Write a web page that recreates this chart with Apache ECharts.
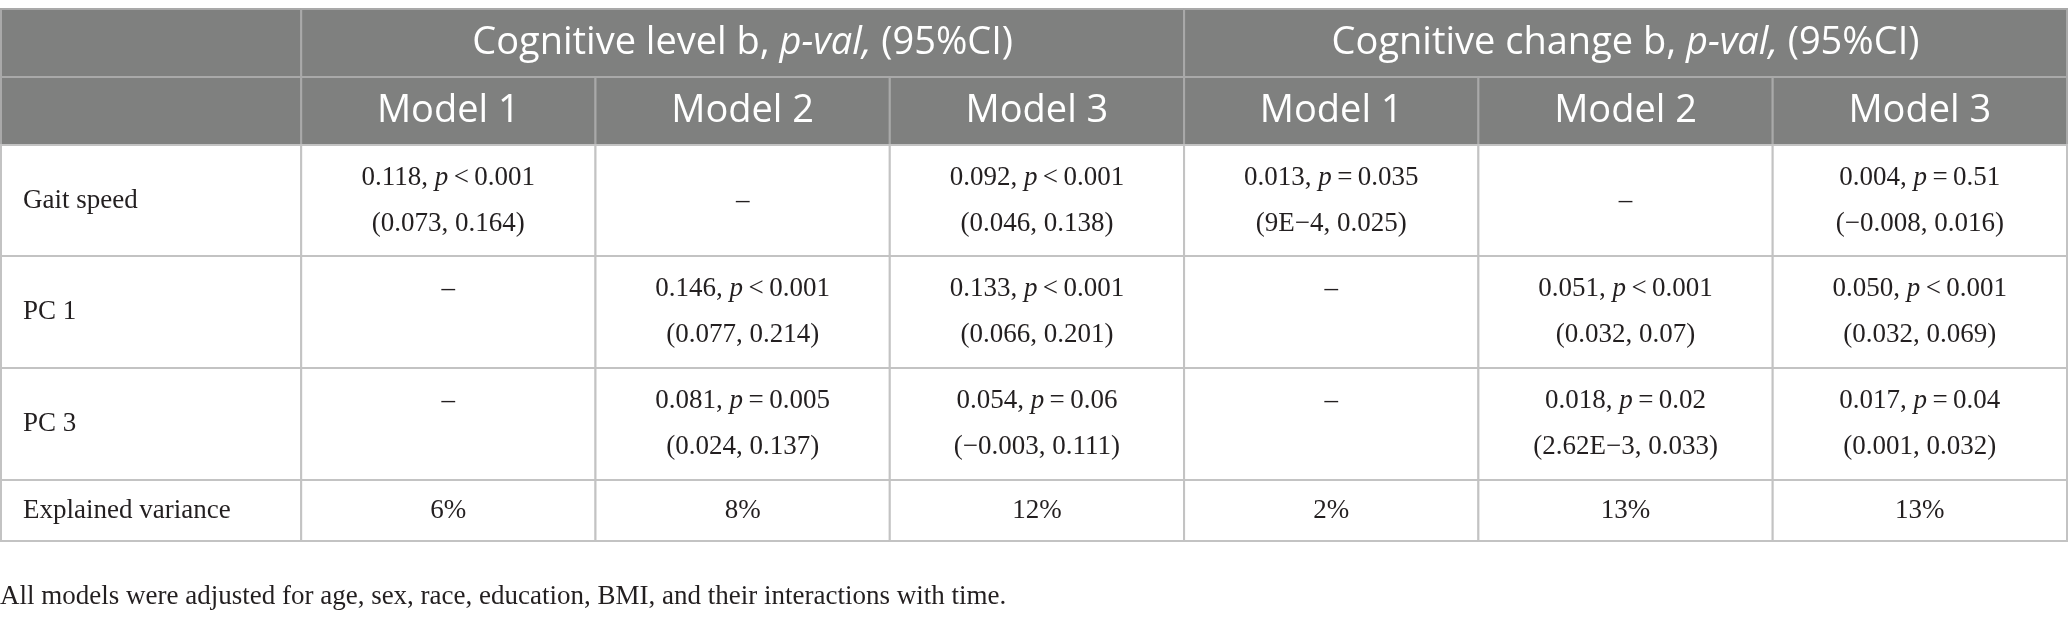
<!DOCTYPE html>
<html lang="en">
<head>
    <meta charset="UTF-8">
    <title>Table</title>
    <script src="https://cdn.jsdelivr.net/npm/echarts@6/dist/echarts.min.js"></script>
    <style>
        body { margin: 0; background: #fff; }
    </style>
</head>
<body>
<div id="main" style="width: 2068px;height:622px;"></div>
<script type="text/javascript">
    // 表格数据
    var groups = ['Cognitive level', 'Cognitive change'];
    var models = ['Model 1', 'Model 2', 'Model 3'];
    var rows = ['Gait speed', 'PC 1', 'PC 3'];
    var coefs = [
        ['0.118', null, '0.092', '0.013', null, '0.004'],
        [null, '0.146', '0.133', null, '0.051', '0.050'],
        [null, '0.081', '0.054', null, '0.018', '0.017']
    ];
    var pvals = [
        ['<0.001', null, '<0.001', '=0.035', null, '=0.51'],
        [null, '<0.001', '<0.001', null, '<0.001', '<0.001'],
        [null, '=0.005', '=0.06', null, '=0.02', '=0.04']
    ];
    var ciLow = [
        ['0.073', null, '0.046', '9E\u22124', null, '\u22120.008'],
        [null, '0.077', '0.066', null, '0.032', '0.032'],
        [null, '0.024', '\u22120.003', null, '2.62E\u22123', '0.001']
    ];
    var ciHigh = [
        ['0.164', null, '0.138', '0.025', null, '0.016'],
        [null, '0.214', '0.201', null, '0.07', '0.069'],
        [null, '0.137', '0.111', null, '0.033', '0.032']
    ];
    var explainedLabel = 'Explained variance';
    var explained = [6, 8, 12, 2, 13, 13];
    var note = 'All models were adjusted for age, sex, race, education, BMI, and their interactions with time.';

    // 布局（行高，单位 px）
    var rowHeight = [68, 68, 111, 112, 112, 61];
    var rowEdge = [0];
    for (var i = 0; i < rowHeight.length; i++) rowEdge.push(rowEdge[i] + rowHeight[i]);
    var labelStart = -1.02;
    var lineH = 46;

    var serif = 'Liberation Serif';
    var sans = 'Open Sans';
    var ink = '#231f20';
    var sp = '\u2009';

    // 组装单元格
    var cells = [];
    cells.push({c0: labelStart, c1: 0, r: 0, kind: 'head'});
    for (var g = 0; g < groups.length; g++) {
        cells.push({c0: g * 3, c1: g * 3 + 3, r: 0, kind: 'head',
            text: '{h|' + groups[g] + ' b, }{hi|p-val,}{h| (95%CI)}'});
    }
    cells.push({c0: labelStart, c1: 0, r: 1, kind: 'head'});
    for (var k = 0; k < 6; k++) {
        cells.push({c0: k, c1: k + 1, r: 1, kind: 'head', text: '{h|' + models[k % 3] + '}'});
    }
    for (var r = 0; r < rows.length; r++) {
        cells.push({c0: labelStart, c1: 0, r: r + 2, kind: 'label', text: '{n|' + rows[r] + '}'});
        for (var k = 0; k < 6; k++) {
            var t, atTop = false;
            if (coefs[r][k] === null) {
                t = '{n|\u2013}';
                atTop = r > 0;   // PC 行的短横线靠上
            } else {
                var p = pvals[r][k];
                t = '{n|' + coefs[r][k] + ', }{i|p}{n|' + sp + p.charAt(0) + sp + p.slice(1) + '}\n' +
                    '{n|(' + ciLow[r][k] + ', ' + ciHigh[r][k] + ')}';
            }
            cells.push({c0: k, c1: k + 1, r: r + 2, kind: 'body', text: t, atTop: atTop});
        }
    }
    cells.push({c0: labelStart, c1: 0, r: 5, kind: 'label', text: '{n|' + explainedLabel + '}'});
    for (var k = 0; k < 6; k++) {
        cells.push({c0: k, c1: k + 1, r: 5, kind: 'body', text: '{n|' + explained[k] + '%}'});
    }

    var rich = {
        n: {fontFamily: serif, fontSize: 27, lineHeight: lineH, fill: ink},
        i: {fontFamily: serif, fontSize: 27, lineHeight: lineH, fill: ink, fontStyle: 'italic'},
        h: {fontFamily: sans, fontSize: 38, lineHeight: 46, fill: '#ffffff'},
        hi: {fontFamily: sans, fontSize: 38, lineHeight: 46, fill: '#ffffff', fontStyle: 'italic'}
    };

    function renderItem(params, api) {
        var cell = cells[params.dataIndex];
        var p0 = api.coord([api.value(0), rowEdge[cell.r]]);
        var p1 = api.coord([api.value(1), rowEdge[cell.r + 1]]);
        var isHead = cell.kind === 'head';
        var children = [{
            type: 'rect',
            shape: {x: p0[0], y: p0[1], width: p1[0] - p0[0], height: p1[1] - p0[1]},
            style: {fill: isHead ? '#7f807f' : '#ffffff', stroke: isHead ? '#a9a9a9' : '#c3c3c3', lineWidth: 2}
        }];
        if (cell.text) {
            var cy = (p0[1] + p1[1]) / 2;
            if (cell.atTop) cy -= lineH / 2;
            var left = cell.kind === 'label';
            children.push({
                type: 'text',
                x: left ? p0[0] + 22 : (p0[0] + p1[0]) / 2,
                y: cy,
                style: {
                    text: cell.text, rich: rich,
                    fontFamily: isHead ? sans : serif, fontSize: isHead ? 38 : 27,
                    fill: isHead ? '#fff' : ink,
                    align: left ? 'left' : 'center', verticalAlign: 'middle'
                }
            });
        }
        return {type: 'group', children: children};
    }

    var myChart = echarts.init(document.getElementById('main'));
    var option = {
        animation: false,
        title: {
            text: note, left: 0, top: 583, padding: 0,
            textStyle: {fontFamily: serif, fontSize: 27, fontWeight: 'normal', color: ink}
        },
        grid: {left: 1, right: 1, top: 9, height: rowEdge[rowEdge.length - 1]},
        xAxis: {type: 'value', min: labelStart, max: 6, show: false},
        yAxis: {type: 'value', min: 0, max: rowEdge[rowEdge.length - 1], inverse: true, show: false},
        series: [{
            type: 'custom',
            clip: false,
            renderItem: renderItem,
            data: cells.map(function (c) { return [c.c0, c.c1, c.r]; })
        }]
    };
    myChart.setOption(option);
</script>
</body>
</html>
